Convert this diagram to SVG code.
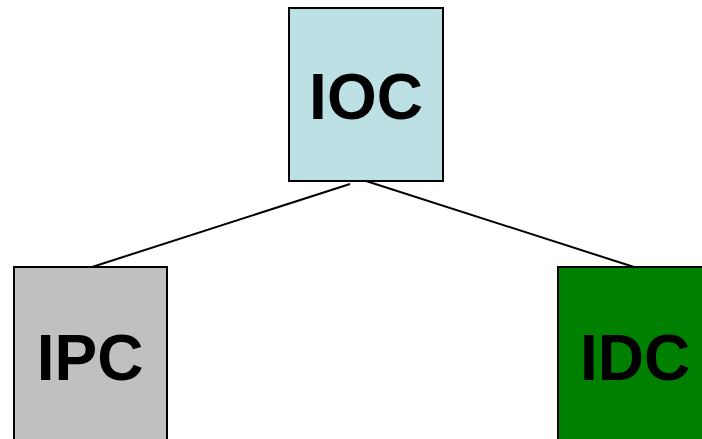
<svg xmlns="http://www.w3.org/2000/svg" width="702" height="439" viewBox="0 0 702 439">
<style>
.box{stroke:#000;stroke-width:2}
.lbl{font-family:"Liberation Sans",Arial,sans-serif;font-weight:bold;font-size:64px;fill:#000;text-anchor:middle}
.conn{stroke:#000;stroke-width:2;fill:none}
</style>
<rect width="702" height="439" fill="#fff"/>
<g id="connectors">
<line class="conn" x1="350" y1="184" x2="92" y2="267"/>
<line class="conn" x1="366" y1="181" x2="634" y2="267"/>
</g>
<g id="IOC">
<rect class="box" x="289" y="8" width="154" height="173" fill="#bce0e4"/>
<text class="lbl" x="366" y="119">IOC</text>
</g>
<g id="IPC">
<rect class="box" x="14" y="267" width="153" height="180" fill="#c0c0c0"/>
<text class="lbl" x="90" y="380">IPC</text>
</g>
<g id="IDC">
<rect class="box" x="558" y="267" width="160" height="180" fill="#008000"/>
<text class="lbl" x="635" y="380">IDC</text>
</g>
</svg>
